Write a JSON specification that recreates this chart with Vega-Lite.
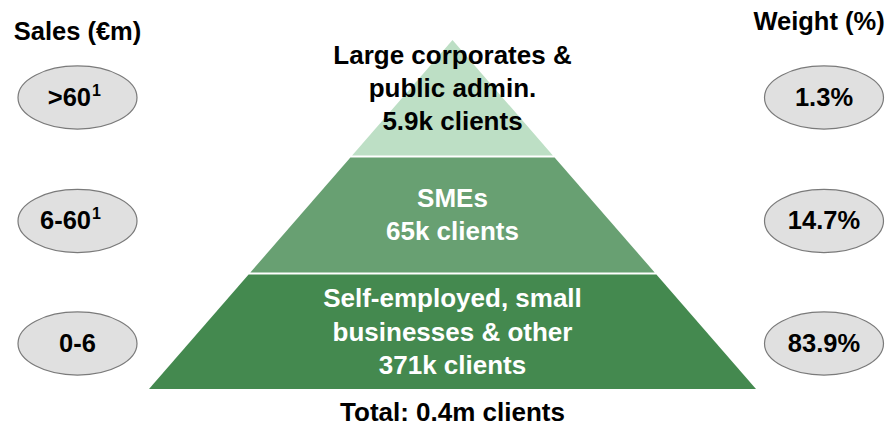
{
  "$schema": "https://vega.github.io/schema/vega-lite/v6.json",
  "width": 888,
  "height": 431,
  "padding": 0,
  "autosize": {"type": "none"},
  "background": "white",
  "config": {"view": {"stroke": null}},
  "datasets": {
    "pyramid": [
      {"layer": "Large", "y": 40, "xl": 452.5, "xr": 452.5},
      {"layer": "Large", "y": 155.5, "xl": 352.1, "xr": 552.9},
      {"layer": "SME", "y": 157.5, "xl": 350.4, "xr": 554.6},
      {"layer": "SME", "y": 272.5, "xl": 250.3, "xr": 654.7},
      {"layer": "Small", "y": 274.5, "xl": 248.6, "xr": 656.4},
      {"layer": "Small", "y": 389, "xl": 149, "xr": 756}
    ],
    "ellipses": [
      {"x": 77.5, "y": 97.5, "label": ">60", "sup": "1"},
      {"x": 77.5, "y": 221, "label": "6-60", "sup": "1"},
      {"x": 77.5, "y": 343.5, "label": "0-6", "sup": ""},
      {"x": 824, "y": 97.5, "label": "1.3%", "sup": ""},
      {"x": 824, "y": 221, "label": "14.7%", "sup": ""},
      {"x": 824, "y": 343.5, "label": "83.9%", "sup": ""}
    ],
    "headers": [
      {"x": 77.5, "y": 32, "text": "Sales (€m)"},
      {"x": 819, "y": 22, "text": "Weight (%)"}
    ],
    "texts": [
      {"x": 452.5, "y": 56, "text": "Large corporates &", "tone": "dark"},
      {"x": 452.5, "y": 89, "text": "public admin.", "tone": "dark"},
      {"x": 452.5, "y": 122, "text": "5.9k clients", "tone": "dark"},
      {"x": 452.5, "y": 199, "text": "SMEs", "tone": "light"},
      {"x": 452.5, "y": 232, "text": "65k clients", "tone": "light"},
      {"x": 452.5, "y": 299, "text": "Self-employed, small", "tone": "light"},
      {"x": 452.5, "y": 333, "text": "businesses & other", "tone": "light"},
      {"x": 452.5, "y": 366, "text": "371k clients", "tone": "light"},
      {"x": 452.5, "y": 413, "text": "Total: 0.4m clients", "tone": "dark"}
    ]
  },
  "layer": [
    {
      "data": {"name": "pyramid"},
      "mark": {"type": "area", "orient": "horizontal", "opacity": 1, "interpolate": "linear"},
      "encoding": {
        "y": {"field": "y", "type": "quantitative", "scale": {"domain": [0, 431], "reverse": true, "nice": false, "zero": false}, "axis": null},
        "x": {"field": "xl", "type": "quantitative", "stack": null, "scale": {"domain": [0, 888], "nice": false, "zero": false}, "axis": null},
        "x2": {"field": "xr"},
        "color": {"field": "layer", "type": "nominal", "scale": {"domain": ["Large", "SME", "Small"], "range": ["#bddfc5", "#68a072", "#44894f"]}, "legend": null}
      }
    },
    {
      "data": {"name": "ellipses"},
      "mark": {"type": "point", "shape": "M-1,0A1,0.53 0 1,1 1,0A1,0.53 0 1,1 -1,0Z", "filled": true, "fill": "#e0e0e0", "stroke": "#7a7a7a", "strokeWidth": 1.2, "opacity": 1, "size": 14161},
      "encoding": {
        "x": {"field": "x", "type": "quantitative"},
        "y": {"field": "y", "type": "quantitative"}
      }
    },
    {
      "data": {"name": "ellipses"},
      "transform": [{"filter": "datum.sup == ''"}],
      "mark": {"type": "text", "font": "Liberation Sans", "fontWeight": "bold", "fontSize": 25.5, "align": "center", "baseline": "middle", "color": "black"},
      "encoding": {
        "x": {"field": "x", "type": "quantitative"},
        "y": {"field": "y", "type": "quantitative"},
        "text": {"field": "label"}
      }
    },
    {
      "data": {"name": "ellipses"},
      "transform": [{"filter": "datum.sup != ''"}],
      "mark": {"type": "text", "font": "Liberation Sans", "fontWeight": "bold", "fontSize": 25.5, "align": "right", "baseline": "middle", "dx": 13.5, "color": "black"},
      "encoding": {
        "x": {"field": "x", "type": "quantitative"},
        "y": {"field": "y", "type": "quantitative"},
        "text": {"field": "label"}
      }
    },
    {
      "data": {"name": "ellipses"},
      "transform": [{"filter": "datum.sup != ''"}],
      "mark": {"type": "text", "font": "Liberation Sans", "fontWeight": "bold", "fontSize": 16, "align": "left", "baseline": "middle", "dx": 14.5, "dy": -7, "color": "black"},
      "encoding": {
        "x": {"field": "x", "type": "quantitative"},
        "y": {"field": "y", "type": "quantitative"},
        "text": {"field": "sup"}
      }
    },
    {
      "data": {"name": "headers"},
      "mark": {"type": "text", "font": "Liberation Sans", "fontWeight": "bold", "fontSize": 25.5, "align": "center", "baseline": "middle", "color": "black"},
      "encoding": {
        "x": {"field": "x", "type": "quantitative"},
        "y": {"field": "y", "type": "quantitative"},
        "text": {"field": "text"}
      }
    },
    {
      "data": {"name": "texts"},
      "mark": {"type": "text", "font": "Liberation Sans", "fontWeight": "bold", "fontSize": 26, "align": "center", "baseline": "middle"},
      "encoding": {
        "x": {"field": "x", "type": "quantitative"},
        "y": {"field": "y", "type": "quantitative"},
        "text": {"field": "text"},
        "color": {"field": "tone", "type": "nominal", "scale": {"domain": ["dark", "light"], "range": ["#000000", "#ffffff"]}, "legend": null}
      }
    }
  ],
  "resolve": {"scale": {"color": "independent"}}
}
